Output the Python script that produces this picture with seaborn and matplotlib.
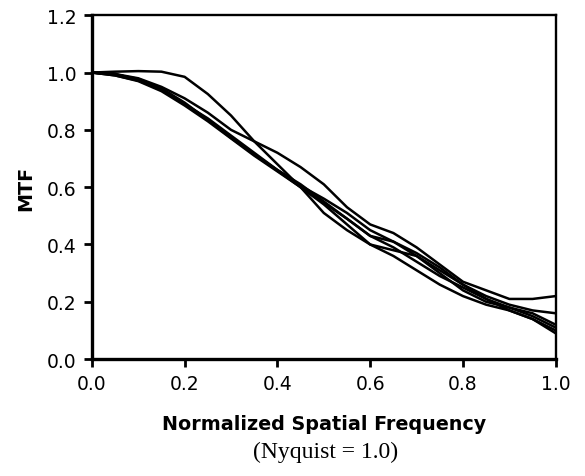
import numpy as np
import pandas as pd
import matplotlib.pyplot as plt
import seaborn as sns

freq = [0.0, 0.05, 0.1, 0.15, 0.2, 0.25, 0.3, 0.35, 0.4, 0.45, 0.5,
        0.55, 0.6, 0.65, 0.7, 0.75, 0.8, 0.85, 0.9, 0.95, 1.0]

mtf_a = [1.0, 1.003, 1.005, 1.003, 0.985, 0.925, 0.85, 0.76, 0.68, 0.60, 0.51,
         0.45, 0.40, 0.36, 0.31, 0.26, 0.22, 0.19, 0.17, 0.14, 0.09]
mtf_b = [1.0, 0.995, 0.98, 0.95, 0.91, 0.86, 0.80, 0.76, 0.72, 0.67, 0.61,
         0.53, 0.47, 0.44, 0.39, 0.33, 0.27, 0.24, 0.21, 0.21, 0.22]
mtf_c = [1.0, 0.995, 0.975, 0.94, 0.89, 0.84, 0.78, 0.72, 0.66, 0.61, 0.55,
         0.49, 0.43, 0.41, 0.37, 0.32, 0.26, 0.22, 0.19, 0.17, 0.16]
mtf_d = [1.0, 0.99, 0.97, 0.935, 0.885, 0.83, 0.77, 0.71, 0.655, 0.60, 0.54,
         0.47, 0.40, 0.38, 0.36, 0.31, 0.26, 0.21, 0.18, 0.15, 0.11]
mtf_e = [1.0, 0.993, 0.978, 0.945, 0.895, 0.835, 0.775, 0.715, 0.66, 0.605, 0.56,
         0.51, 0.45, 0.41, 0.36, 0.30, 0.24, 0.20, 0.18, 0.16, 0.12]
mtf_f = [1.0, 0.99, 0.972, 0.94, 0.89, 0.835, 0.772, 0.715, 0.658, 0.60, 0.545,
         0.49, 0.43, 0.39, 0.34, 0.29, 0.25, 0.21, 0.17, 0.14, 0.10]

curves = {'A': mtf_a, 'B': mtf_b, 'C': mtf_c, 'D': mtf_d, 'E': mtf_e, 'F': mtf_f}
df = pd.DataFrame({'freq': freq, **curves})
long = pd.melt(df, ['freq'], var_name='curve', value_name='mtf')

sns.set_style("ticks", {'axes.edgecolor': 'black', 'text.color': 'black',
                        'xtick.color': 'black', 'ytick.color': 'black',
                        'axes.labelcolor': 'black'})
fig = plt.figure(figsize=(5.85, 4.77), dpi=100)
ax = fig.add_axes([0.157, 0.245, 0.793, 0.721])

sns.lineplot(x='freq', y='mtf', data=long, hue='curve',
             palette=['black'] * len(curves), linewidth=1.8,
             estimator=None, legend=False, ax=ax)

ax.set_xlim(0, 1.0)
ax.set_ylim(0, 1.2)
ax.set_xticks(np.arange(0, 1.01, 0.2))
ax.set_yticks(np.arange(0, 1.21, 0.2))
ax.set_xticklabels([f'{v:.1f}' for v in np.arange(0, 1.01, 0.2)])
ax.set_yticklabels([f'{v:.1f}' for v in np.arange(0, 1.21, 0.2)])
ax.tick_params(direction='out', length=6, width=2, labelsize=13.5, colors='black', pad=5)

for side in ['left', 'bottom']:
    ax.spines[side].set_linewidth(2.4)
for side in ['top', 'right']:
    ax.spines[side].set_linewidth(1.7)
    ax.spines[side].set_visible(True)

ax.set_xlabel('Normalized Spatial Frequency', fontsize=13.8, fontweight='bold', labelpad=15)
ax.set_ylabel('MTF', fontsize=13.8, fontweight='bold', labelpad=8)
fig.text(0.557, 0.052, '(Nyquist = 1.0)', ha='center', va='center',
         fontsize=17, family='Liberation Serif')

plt.savefig('out.png', dpi=100)
plt.close('all')
